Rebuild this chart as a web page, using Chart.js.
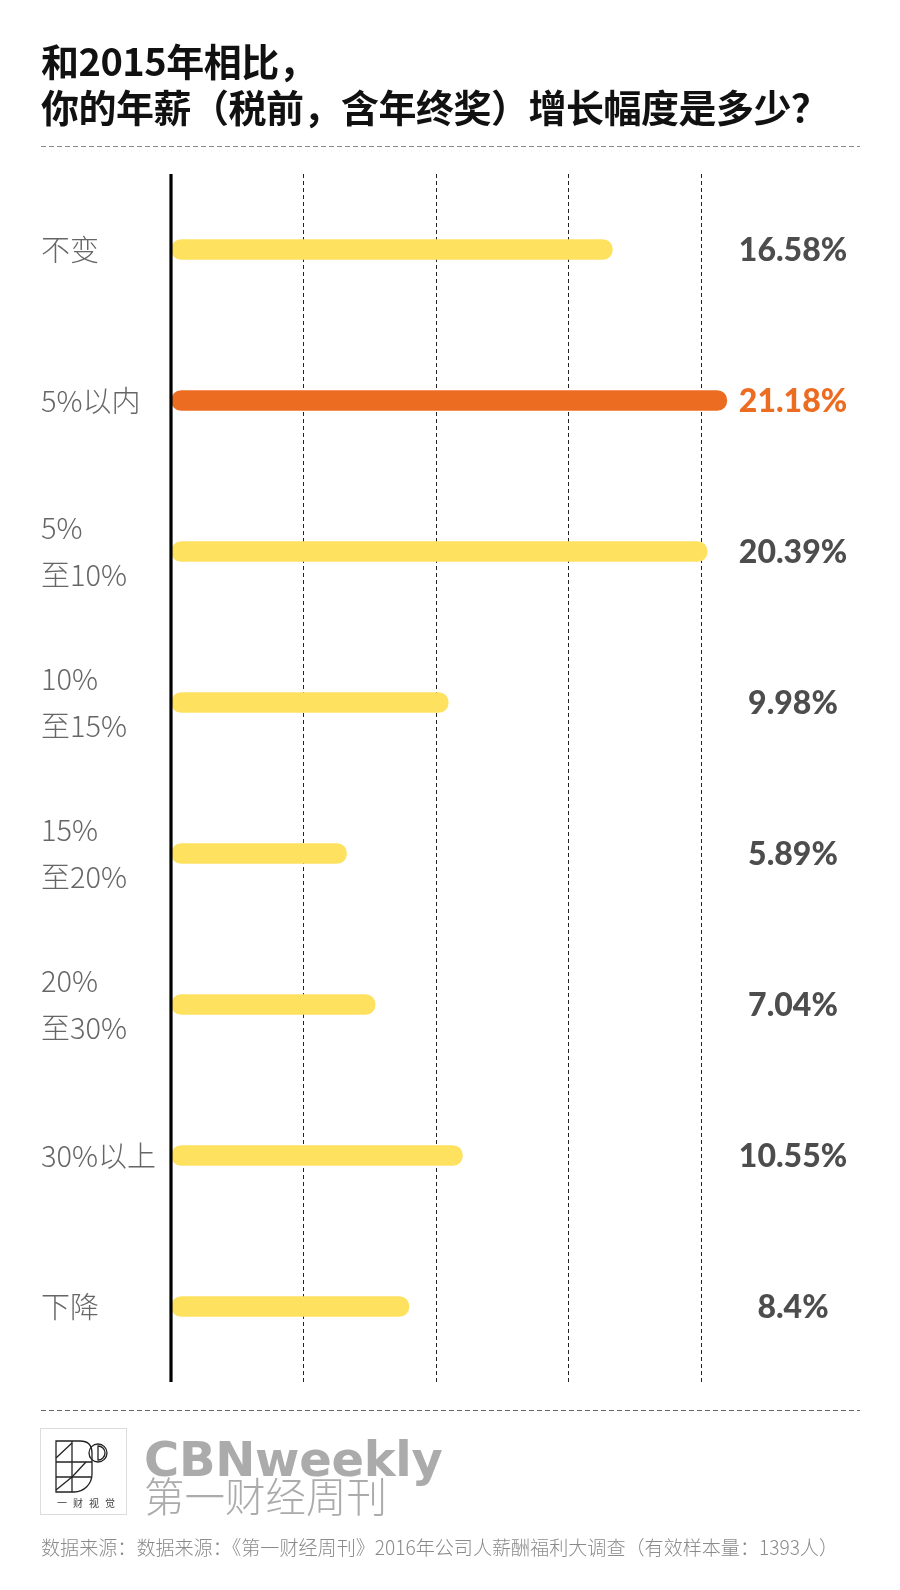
<!DOCTYPE html>
<html>
<head>
<meta charset="utf-8">
<script src="https://cdn.jsdelivr.net/npm/chart.js@4.4.1/dist/chart.umd.min.js"></script>
<style>
  html, body { margin: 0; padding: 0; background: #fff; }
  body { width: 900px; height: 1590px; position: relative; overflow: hidden; }
  #title { position: absolute; left: 41px; top: 37px; margin: 0;
    font-family: "Noto Sans CJK SC", sans-serif; font-weight: 700; font-size: 38px;
    line-height: 46px; color: #111; letter-spacing: -0.5px; }
  #wrap { position: absolute; left: 0; top: 0; width: 900px; height: 1590px; }
  svg.overlay { position: absolute; left: 0; top: 0; }
</style>
</head>
<body>
<div id="wrap"><canvas id="c"></canvas></div>
<svg class="overlay" width="900" height="1590" xmlns="http://www.w3.org/2000/svg">
  <line x1="41" y1="146.5" x2="860" y2="146.5" stroke="#8a8a8a" stroke-width="1" stroke-dasharray="5 3"/>
  <line x1="41" y1="1410.5" x2="860" y2="1410.5" stroke="#666" stroke-width="1" stroke-dasharray="5 3"/>
  <!-- logo -->
  <rect x="40.5" y="1428.5" width="86" height="86" fill="#fff" stroke="#dcdcdc" stroke-width="1"/>
  <g fill="none" stroke="#222" stroke-width="1.3">
    <path d="M56 1441 H80 Q92 1441 92 1453 V1474 A18 18 0 0 1 74 1492 H56 Z"/>
    <line x1="56" y1="1462" x2="92" y2="1462"/>
    <line x1="56" y1="1477" x2="91" y2="1477"/>
    <line x1="72" y1="1441" x2="72" y2="1492"/>
    <line x1="56" y1="1458" x2="72" y2="1443"/>
    <line x1="56" y1="1490" x2="72" y2="1477"/>
    <line x1="72" y1="1477" x2="86" y2="1462"/>
    <circle cx="98" cy="1453" r="9"/>
    <path d="M98 1446 A7 7 0 0 1 98 1460 Z"/>
  </g>
  <text x="57" y="1507" font-family="Noto Sans CJK SC, sans-serif" font-size="10" fill="#444" letter-spacing="6">一财视觉</text>
  <text x="144" y="1476" font-family="DejaVu Sans, sans-serif" font-weight="bold" font-size="48" fill="#ababab" letter-spacing="-0.3">CBNweekly</text>
  <text x="144" y="1512" font-family="Noto Sans CJK SC, sans-serif" font-weight="300" font-size="40.5" fill="#ababab">第一财经周刊</text>
  <text x="41" y="1555" font-family="Noto Sans CJK SC, sans-serif" font-weight="300" font-size="19.5" fill="#8a8a8a" textLength="797" lengthAdjust="spacingAndGlyphs">数据来源：数据来源：《第一财经周刊》2016年公司人薪酬福利大调查（有效样本量：1393人）</text>
</svg>
<h1 id="title">和2015年相比，<br>你的年薪（税前，含年终奖）增长幅度是多少？</h1>
<script>
// ---- data ----
const CATEGORIES = [
  ["不变"],
  ["5%以内"],
  ["5%", "至10%"],
  ["10%", "至15%"],
  ["15%", "至20%"],
  ["20%", "至30%"],
  ["30%以上"],
  ["下降"]
];
const VALUES = [16.58, 21.18, 20.39, 9.98, 5.89, 7.04, 10.55, 8.4];
const VALUE_LABELS = VALUES.map(v => v + "%");
const HIGHLIGHT_INDEX = 1;

// ---- scale settings (design of reference) ----
const X_MIN = -1.17;
const X_MAX = 21.91;
const GRID_STEP = 5.33;

const YELLOW = "#FFE160";
const ORANGE = "#EC6D21";

const barColors = VALUES.map((v, i) => i === HIGHLIGHT_INDEX ? ORANGE : YELLOW);

const overlayPlugin = {
  id: "overlay",
  afterDatasetsDraw(chart) {
    const ctx = chart.ctx;
    const ca = chart.chartArea;
    const meta = chart.getDatasetMeta(0);
    ctx.save();
    ctx.strokeStyle = "#000";
    ctx.lineWidth = 3.2;
    ctx.beginPath();
    const ax = chart.scales.x.getPixelForValue(X_MIN);
    ctx.moveTo(ax, ca.top);
    ctx.lineTo(ax, ca.bottom);
    ctx.stroke();
    ctx.font = "900 32px Lato, 'DejaVu Sans', sans-serif";
    ctx.textAlign = "center";
    ctx.textBaseline = "middle";
    meta.data.forEach((el, i) => {
      ctx.fillStyle = i === HIGHLIGHT_INDEX ? ORANGE : "#4d4d4d";
      ctx.fillText(VALUE_LABELS[i], 793, el.y + 1);
    });
    ctx.restore();
  }
};

new Chart(document.getElementById("c"), {
  type: "bar",
  data: {
    labels: CATEGORIES,
    datasets: [{
      data: VALUES,
      base: X_MIN,
      backgroundColor: barColors,
      barThickness: 20,
      borderRadius: 10,
      borderSkipped: false
    }]
  },
  options: {
    indexAxis: "y",
    responsive: true,
    maintainAspectRatio: false,
    animation: false,
    layout: { padding: { top: 174, bottom: 208, left: 41, right: 155 } },
    plugins: { legend: { display: false }, tooltip: { enabled: false } },
    scales: {
      x: {
        type: "linear",
        min: X_MIN,
        max: X_MAX,
        afterBuildTicks(scale) {
          const t = [];
          for (let k = 0; X_MIN + k * GRID_STEP <= X_MAX; k++) t.push({ value: X_MIN + k * GRID_STEP });
          scale.ticks = t;
        },
        afterFit(scale) { scale.height = 0; },
        ticks: { display: false },
        grid: { color: "#222", lineWidth: 1, drawTicks: false },
        border: { display: false, dash: [4, 3] }
      },
      y: {
        afterFit(scale) { scale.width = 130; },
        ticks: {
          crossAlign: "far",
          color: "#666",
          padding: 0,
          font: { family: "'Noto Sans CJK SC', sans-serif", size: 29, weight: 300, lineHeight: 1.6 }
        },
        grid: { display: false, drawTicks: false },
        border: { display: false }
      }
    }
  },
  plugins: [overlayPlugin]
});
</script>
</body>
</html>
